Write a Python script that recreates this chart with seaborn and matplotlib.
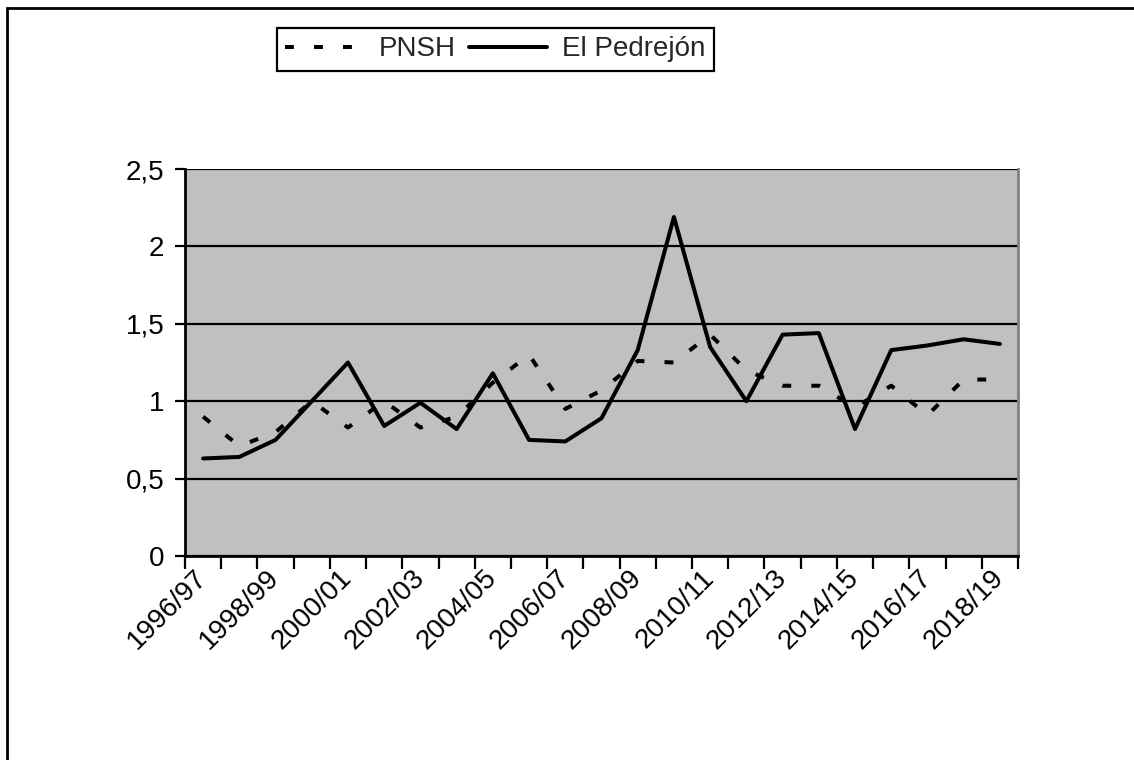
import matplotlib
matplotlib.use("Agg")
import matplotlib.pyplot as plt
from matplotlib.patches import Rectangle
import numpy as np
import pandas as pd
import seaborn as sns

# seasons (categories) and the two series
seasons = ['1996/97', '1997/98', '1998/99', '1999/00', '2000/01', '2001/02',
           '2002/03', '2003/04', '2004/05', '2005/06', '2006/07', '2007/08',
           '2008/09', '2009/10', '2010/11', '2011/12', '2012/13', '2013/14',
           '2014/15', '2015/16', '2016/17', '2017/18', '2018/19']
pnsh = [0.90, 0.71, 0.80, 1.00, 0.83, 1.00, 0.83, 0.90, 1.12, 1.30, 0.95, 1.07,
        1.26, 1.25, 1.43, 1.20, 1.10, 1.10, 0.96, 1.10, 0.91, 1.14, 1.14]
pedrejon = [0.63, 0.64, 0.75, 1.00, 1.25, 0.84, 0.99, 0.82, 1.18, 0.75, 0.74, 0.89,
            1.33, 2.19, 1.35, 1.00, 1.43, 1.44, 0.82, 1.33, 1.36, 1.40, 1.37]
series_names = ['PNSH', 'El Pedrejón']
y_ticks = [0, 0.5, 1, 1.5, 2, 2.5]
y_tick_labels = ['0', '0,5', '1', '1,5', '2', '2,5']

df = pd.DataFrame({
    'season': seasons * 2,
    'value': pnsh + pedrejon,
    'serie': [series_names[0]] * len(seasons) + [series_names[1]] * len(seasons),
})

sns.set_theme(style="white")
plt.rcParams['font.family'] = ['Liberation Sans', 'DejaVu Sans']
FS = 20

W, H = 1134, 760
fig = plt.figure(figsize=(W / 100, H / 100), dpi=100)
ax = fig.add_axes([185 / W, 1 - 556 / H, (1018 - 185) / W, (556 - 169) / H])
ax.set_facecolor('#c0c0c0')

sns.lineplot(data=df, x='season', y='value', hue='serie', style='serie',
             palette=['black', 'black'], dashes={'PNSH': (2.2, 5), 'El Pedrejón': ''},
             linewidth=2.9, sort=False, ax=ax)

n = len(seasons)
ax.set_xlim(-0.5, n - 0.5)
ax.set_ylim(0, 2.5)

# horizontal grid
ax.set_yticks(y_ticks)
ax.set_yticklabels(y_tick_labels, fontsize=FS)
ax.yaxis.grid(True, color='black', linewidth=1.6)
ax.set_axisbelow(True)
ax.tick_params(axis='y', which='major', left=True, length=7, width=1.6,
               color='black', pad=8, labelcolor='black')

# category labels every other season, tick marks at category boundaries
ax.set_xticks(np.arange(0, n, 2))
ax.set_xticklabels(seasons[::2], fontsize=FS, rotation=45, ha='right',
                   va='center', rotation_mode='anchor')
ax.set_xticks(np.arange(-0.5, n, 1), minor=True)
ax.tick_params(axis='x', which='major', bottom=True, length=0, pad=13,
               labelcolor='black')
ax.tick_params(axis='x', which='minor', bottom=True, length=9, width=1.6,
               color='black')
ax.set_xlabel('')
ax.set_ylabel('')

for side in ['left', 'bottom']:
    ax.spines[side].set_color('black')
    ax.spines[side].set_linewidth(2)
ax.spines['top'].set_visible(False)
ax.spines['right'].set_color('#808080')
ax.spines['right'].set_linewidth(2)

handles, labels = ax.get_legend_handles_labels()
ax.get_legend().remove()
leg = fig.legend(handles, labels, loc='upper left',
                 bbox_to_anchor=(277 / W, 1 - 28 / H), ncol=2, frameon=True,
                 fancybox=False, edgecolor='black', framealpha=1,
                 fontsize=FS, handlelength=2.8, handletextpad=0.55,
                 columnspacing=0.5, borderpad=0.3, borderaxespad=0)
leg.get_frame().set_linewidth(1.6)
for line in leg.get_lines():
    line.set_linewidth(2.9)

# outer chart frame (only top and left edges are inside the picture)
fig.patches.append(Rectangle((7 / W, -0.1), 1.2, 1.1 - 8 / H,
                             transform=fig.transFigure, fill=False,
                             edgecolor='black', linewidth=2))

fig.savefig('out.png', dpi=100, facecolor='white')
